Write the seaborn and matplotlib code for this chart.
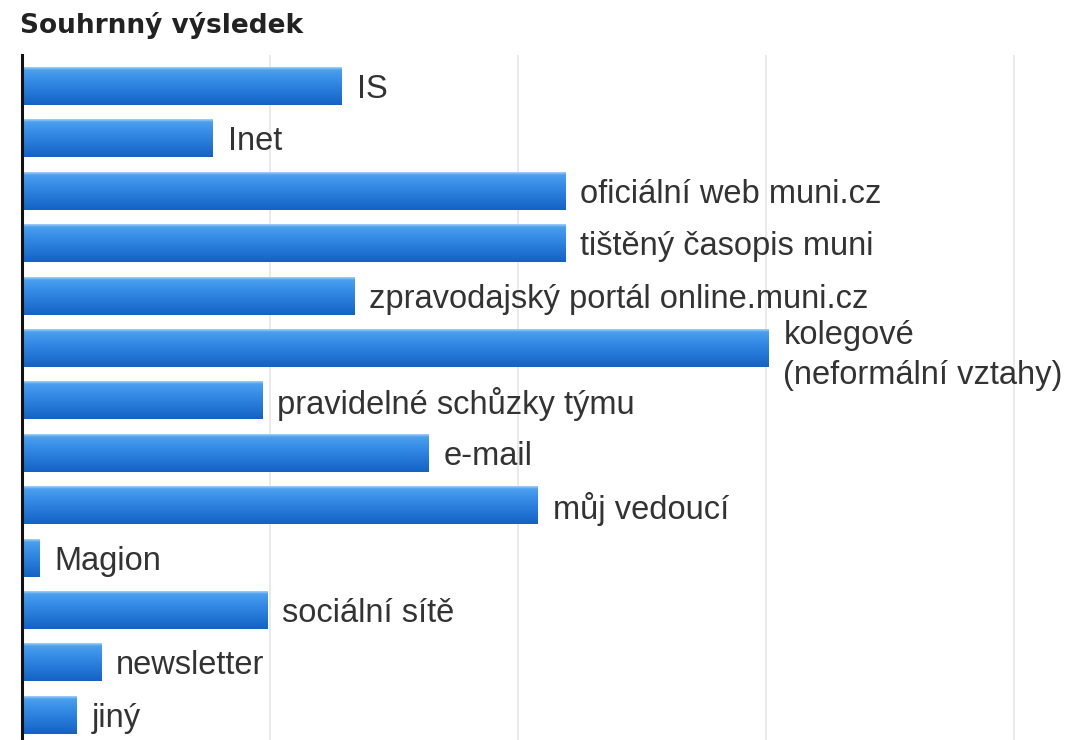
import numpy as np
import pandas as pd
import matplotlib
matplotlib.use("Agg")
import matplotlib.pyplot as plt
from matplotlib.colors import LinearSegmentedColormap
import seaborn as sns

# ── DATA ──────────────────────────────────────────────────────────────
categories = ['IS', 'Inet', 'oficiální web muni.cz', 'tištěný časopis muni',
              'zpravodajský portál online.muni.cz',
              'kolegové\n(neformální vztahy)', 'pravidelné schůzky týmu',
              'e-mail', 'můj vedoucí', 'Magion', 'sociální sítě',
              'newsletter', 'jiný']
values = [12.9, 7.7, 21.9, 21.9, 13.4, 30.1, 9.7, 16.4, 20.8, 0.7, 9.9, 3.2, 2.2]
grid_ticks = [10, 20, 30, 40]

df = pd.DataFrame({'kanal': categories, 'hodnota': values})

# ── STYLE ─────────────────────────────────────────────────────────────
sns.set_theme(style='white')
plt.rcParams['font.family'] = ['Liberation Sans', 'DejaVu Sans']

fig = plt.figure(figsize=(10.78, 7.4), dpi=100)
ax = fig.add_axes([22 / 1078, 0, 1 - 22 / 1078, (740 - 55) / 740])

sns.barplot(data=df, y='kanal', x='hodnota', orient='h', width=0.725,
            color='#2f86e2', ax=ax, zorder=2)

# gradient fill on each bar (lighter top, darker bottom)
grad = LinearSegmentedColormap.from_list(
    'bar', [(0, '#9fcdf8'), (0.07, '#4a9fee'), (0.4, '#3289e4'), (1, '#1462c4')])
ramp = np.linspace(0, 1, 64).reshape(-1, 1)
for p in ax.patches:
    x0, y0 = p.get_x(), p.get_y()
    w, h = p.get_width(), p.get_height()
    im = ax.imshow(ramp, cmap=grad, aspect='auto', origin='upper',
                   extent=(x0, x0 + w, y0 + h, y0), zorder=3)
    im.set_clip_path(p)
    p.set_facecolor('none')
    p.set_edgecolor('none')

# labels to the right of the bars
for i, (lab, v) in enumerate(zip(categories, values)):
    ax.text(v + 0.6, i, lab, va='center_baseline', ha='left', fontsize=23.5,
            color='#333333', linespacing=1.35, zorder=4)

ax.set_xlim(0, (1078 - 22) / 24.8)
ax.set_ylim(12.48, -0.59)
for g in grid_ticks:
    ax.axvline(g, color='#e6e6e6', linewidth=1.2, zorder=1)

ax.set_xticks([])
ax.set_yticks([])
ax.set_xlabel('')
ax.set_ylabel('')
for s in ['top', 'right', 'bottom']:
    ax.spines[s].set_visible(False)
ax.spines['left'].set_color('#111111')
ax.spines['left'].set_linewidth(2.2)
ax.spines['left'].set_zorder(5)

fig.text(20 / 1078, 1 - 33 / 740, 'Souhrnný výsledek', family=['DejaVu Sans'],
         fontweight='bold', fontsize=19, color='#222222', va='baseline', ha='left')

fig.savefig('out.png', dpi=100)
